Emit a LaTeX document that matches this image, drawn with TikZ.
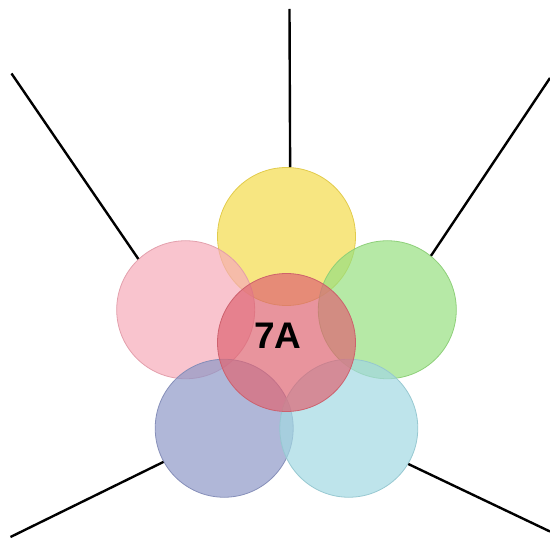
\documentclass[tikz,border=0pt]{standalone}
\usepackage{fontspec}
\setmainfont{Liberation Sans}
\usepackage{xcolor}
\usepackage{tikz}
\usetikzlibrary{calc}
\definecolor{petalyellow}{RGB}{244,219,76}
\definecolor{petalpink}{RGB}{246,171,185}
\definecolor{petalgreen}{RGB}{151,224,128}
\definecolor{petalblue}{RGB}{142,152,199}
\definecolor{petalcyan}{RGB}{162,216,226}
\definecolor{petalred}{RGB}{222,102,116}
\tikzset{
  petal/.style={
    circle,
    minimum size=138pt,
    inner sep=0pt,
    line width=0.8pt,
    fill=#1,
    draw=#1!92!black,
    fill opacity=0.7,
    draw opacity=0.95
  },
  tagtext/.style={
    font=\bfseries\fontsize{37}{40}\selectfont,
    text=black,
    inner sep=0pt
  },
  spoke/.style={line width=2.4pt, black}
}

\begin{document}
\begin{tikzpicture}[x=1pt, y=1pt]
\useasboundingbox (-286.5,-198.5) rectangle (263.5,342.5);
\coordinate (mid) at (0,0);
\node[petal=petalyellow] (yellow) at ($(mid)+(90:106)$) {};
\node[petal=petalpink] (pink) at ($(mid)+(162:106)$) {};
\node[petal=petalgreen] (green) at ($(mid)+(18:106)$) {};
\node[petal=petalblue] (blue) at ($(mid)+(234:106)$) {};
\node[petal=petalcyan] (cyan) at ($(mid)+(306:106)$) {};
\node[petal=petalred] (core) at (mid) {};
\node[tagtext] (tag) at ($(core)+(-8.5,6.5)$) {7A};
% spokes out to the page edge
\coordinate (topend) at (3,333.5);
\coordinate (ulend) at (-275,269);
\coordinate (urend) at (263.5,264.5);
\coordinate (llend) at (-276,-194.5);
\coordinate (lrend) at (263.5,-189);
\draw[spoke] (yellow.87.5) -- (topend);
\draw[spoke] (pink.133.5) -- (ulend);
\draw[spoke] (green.51) -- (urend);
\draw[spoke] (blue.209.7) -- (llend);
\draw[spoke] (cyan.-31) -- (lrend);
\end{tikzpicture}
\end{document}
